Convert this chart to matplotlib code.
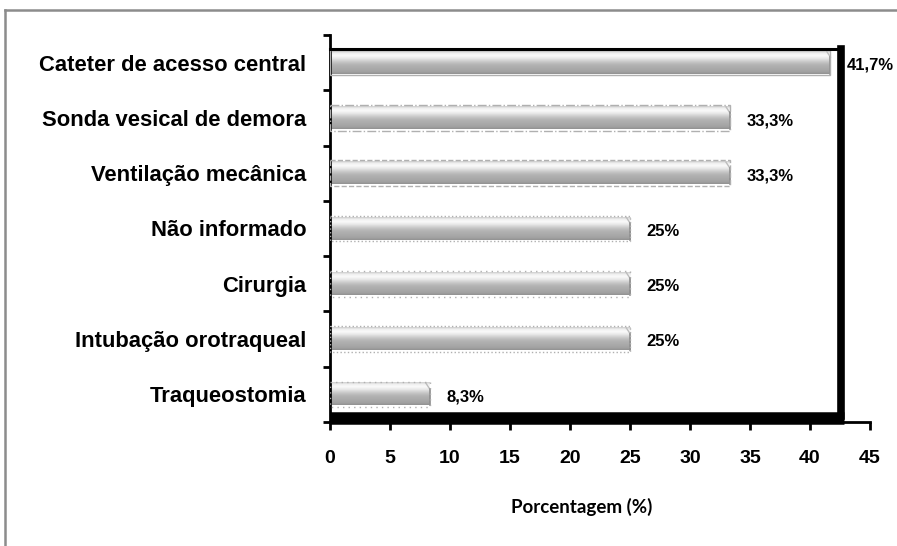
import numpy as np
from matplotlib import pyplot as plt
from matplotlib.colors import LinearSegmentedColormap
from matplotlib.lines import Line2D

# data
categorias = ['Cateter de acesso central', 'Sonda vesical de demora',
              'Ventilação mecânica', 'Não informado', 'Cirurgia',
              'Intubação orotraqueal', 'Traqueostomia']
valores = [41.7, 33.3, 33.3, 25, 25, 25, 8.3]
rotulos = ['41,7%', '33,3%', '33,3%', '25%', '25%', '25%', '8,3%']
xticks = [0, 5, 10, 15, 20, 25, 30, 35, 40, 45]

plt.rcParams['font.family'] = ['Liberation Sans', 'DejaVu Sans']

fig = plt.figure(figsize=(8.97, 5.46), dpi=100)
W, H = 897, 546
ax = fig.add_axes([330 / W, (H - 422) / H, 540 / W, 387 / H])

# gray "cylinder" gradient, top to bottom
shades = ['#cfcfcf', '#f2f2f2', '#fafafa', '#ebebeb', '#d6d6d6', '#c2c2c2',
          '#b4b4b4', '#adadad', '#a8a8a8', '#a2a2a2', '#929292']
cmap = LinearSegmentedColormap.from_list('barra', shades)
grad = np.linspace(0, 1, 64).reshape(-1, 1)

h = 0.40
estilos = ['-', '-.', '--', ':', (0, (1, 3)), ':', (0, (1, 3))]
for i, (v, lab) in enumerate(zip(valores, rotulos)):
    ax.imshow(grad, extent=[0, v, i + h / 2, i - h / 2], aspect='auto',
              cmap=cmap, interpolation='bilinear', zorder=2)
    # bevel at the bar end
    ax.plot([v - 0.3, v], [i - h / 2, i - h / 2 + 0.1], color='#bdbdbd', lw=1, zorder=3)
    ax.plot([v, v], [i - h / 2 + 0.1, i + h / 2], color='#8e8e8e', lw=1.2, zorder=3)
    ax.barh(i, v, height=h + 0.06, fill=False, edgecolor='#b0b0b0',
            linestyle=estilos[i], lw=1, zorder=3)
    ax.text(v + 1.4, i + 0.05, lab, ha='left', va='center',
            fontsize=12, fontweight='bold', zorder=5)

ax.set_xlim(0, 45)
ax.set_ylim(6.5, -0.5)

# back wall frame of the 3D chart
ax.add_line(Line2D([0, 42.55], [-0.25, -0.25], color='black', lw=2.2, clip_on=False, zorder=4))
ax.add_line(Line2D([42.55, 42.55], [-0.25, 6.4], color='black', lw=5.5, clip_on=False, zorder=4))
ax.add_line(Line2D([0, 42.85], [6.43, 6.43], color='black', lw=9, clip_on=False, zorder=4,
                   solid_capstyle='butt'))

ax.set_xticks(xticks)
ax.set_xticklabels([str(t) for t in xticks], fontsize=14, fontweight='bold')
ax.set_yticks(range(len(categorias)))
ax.set_yticklabels(categorias, fontsize=15.8, fontweight='bold')
ax.set_yticks(np.arange(-0.5, 7, 1), minor=True)
ax.tick_params(axis='y', which='major', length=0, pad=17)
ax.tick_params(axis='y', which='minor', length=5, width=2, direction='out')
ax.tick_params(axis='x', length=6, width=2, direction='out', pad=14)

for s in ['top', 'right']:
    ax.spines[s].set_visible(False)
for s in ['left', 'bottom']:
    ax.spines[s].set_linewidth(2)

ax.set_xlabel('Porcentagem (%)', fontsize=13.5, fontweight='bold', family=['Lato', 'DejaVu Sans'])
ax.xaxis.set_label_coords(252 / 540, -76 / 387)

# outer border of the figure
fig.add_artist(Line2D([5 / W, 1], [1 - 10 / H, 1 - 10 / H], color='#8c8c8c', lw=1.8))
fig.add_artist(Line2D([5 / W, 5 / W], [0, 1 - 10 / H], color='#8c8c8c', lw=1.8))

fig.savefig('out.png', dpi=100)
